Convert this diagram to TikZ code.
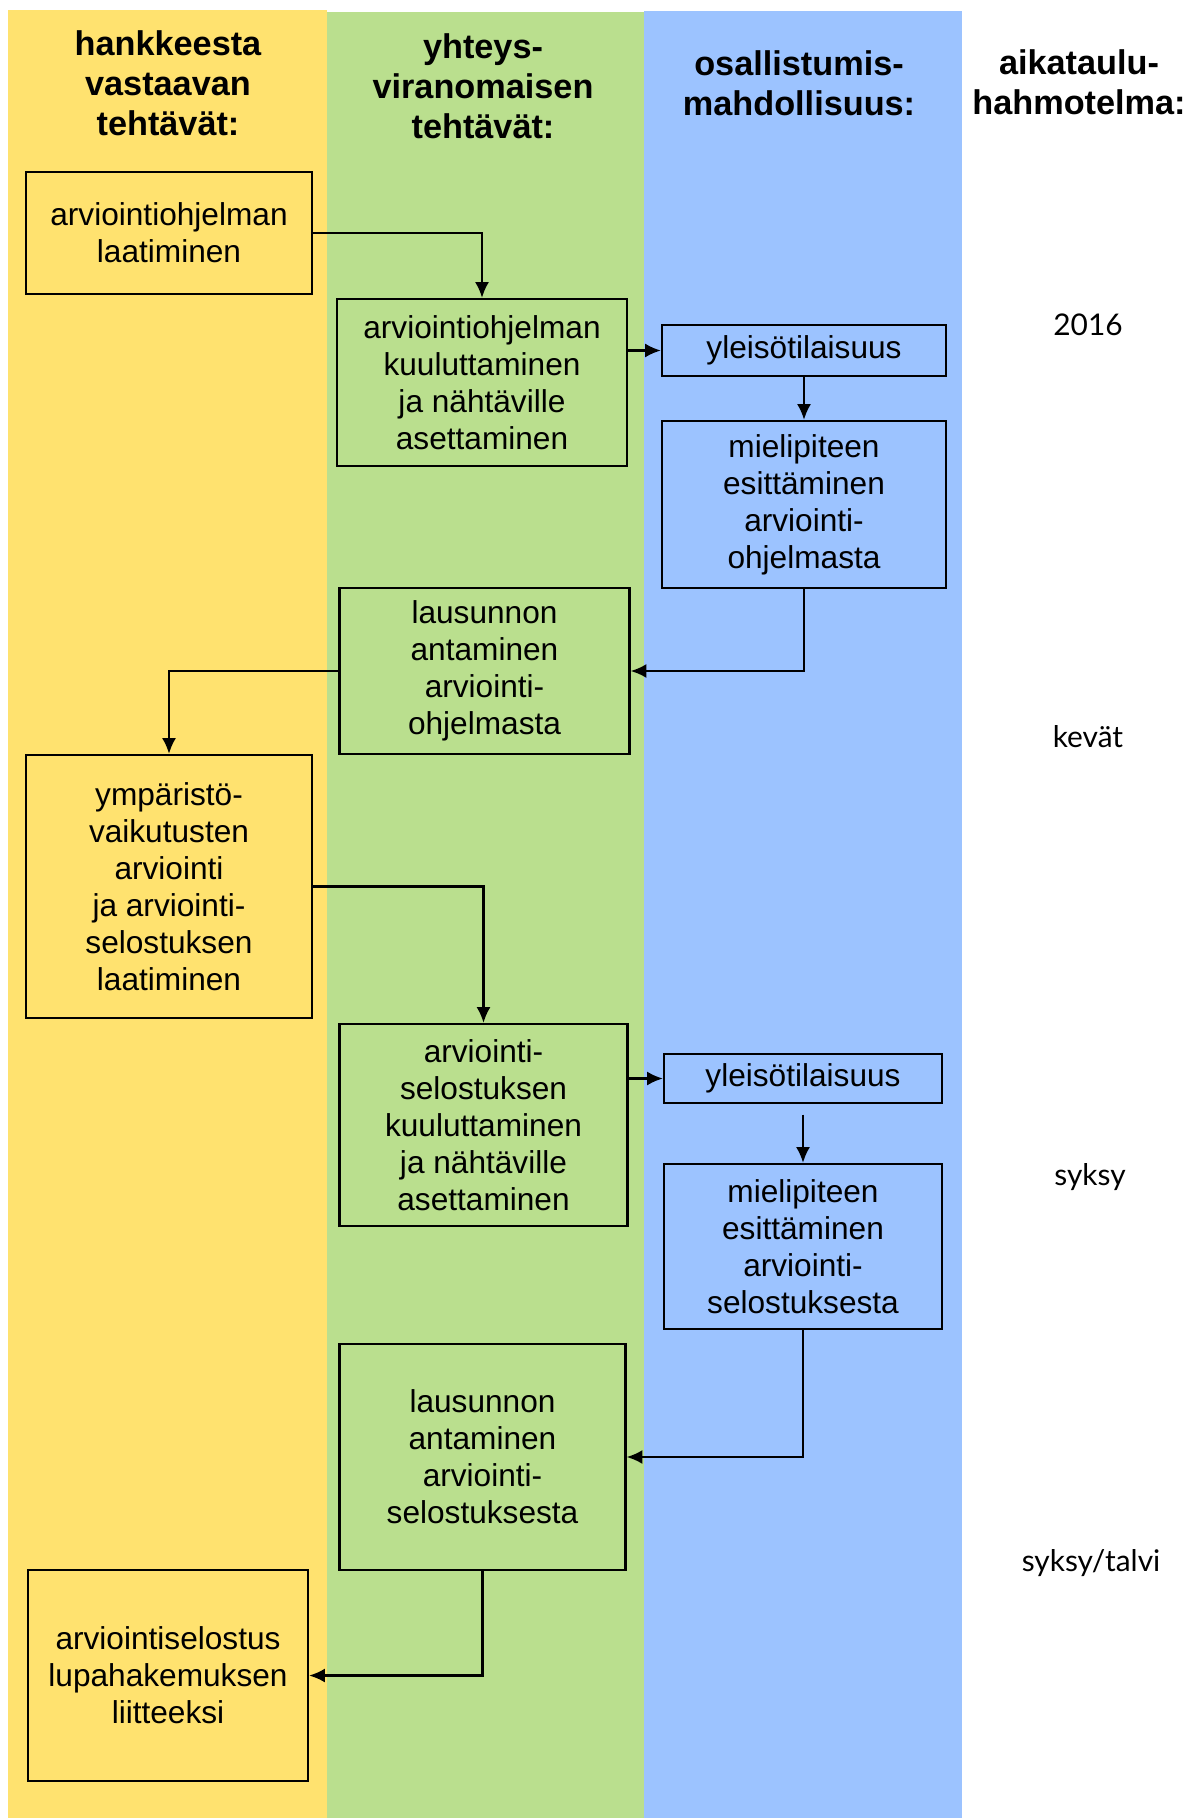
\documentclass[tikz,border=0pt]{standalone}
\usepackage{fontspec}
\setsansfont{Liberation Sans}
\newfontfamily\timefont{Lato}
\usetikzlibrary{arrows.meta}

\definecolor{vastaava}{RGB}{255,226,111}
\definecolor{viranomainen}{RGB}{186,223,142}
\definecolor{osallinen}{RGB}{156,195,255}

\begin{document}
\begin{tikzpicture}[x=0.02cm,y=-0.02cm,
    box/.style={draw,line width=1.3pt,align=center,inner sep=0pt,
        font=\sffamily\fontsize{18}{21}\selectfont},
    head/.style={align=center,font=\sffamily\bfseries\fontsize{19.5}{22.8}\selectfont},
    when/.style={font=\timefont\fontsize{17}{20}\selectfont},
    flow/.style={line width=1.3pt,-{Latex[length=9pt,width=8pt]}}]
    \useasboundingbox (0,0) rectangle (1188,1818);

    \fill[vastaava](8,10) rectangle (327,1818);
    \fill[viranomainen](327,12) rectangle (644,1818);
    \fill[osallinen](644,11) rectangle (962,1818);

    \node[head] (h1) at (168,83) {hankkeesta\\vastaavan\\tehtävät:};
    \node[head] (h2) at (483,86) {yhteys-\\viranomaisen\\tehtävät:};
    \node[head] (h3) at (799,83) {osallistumis-\\mahdollisuus:};
    \node[head] (h4) at (1079,82) {aikataulu-\\hahmotelma:};

    \node[box,fill=vastaava,minimum width=5.72cm,minimum height=2.44cm] (laatiminen) at (169,233) {arviointiohjelman\\laatiminen};
    \node[box,fill=viranomainen,minimum width=5.80cm,minimum height=3.34cm] (kuulutus1) at (482,382.5) {arviointiohjelman\\kuuluttaminen\\ja nähtäville\\asettaminen};
    \node[box,fill=osallinen,minimum width=5.68cm,minimum height=1.02cm] (tilaisuus1) at (804,350.5) {yleisötilaisuus};
    \node[box,fill=osallinen,minimum width=5.68cm,minimum height=3.34cm] (mielipide1) at (804,504.5) {mielipiteen\\esittäminen\\arviointi-\\ohjelmasta};
    \node[box,fill=viranomainen,minimum width=5.80cm,minimum height=3.32cm] (lausunto1) at (484.5,671) {lausunnon\\antaminen\\arviointi-\\ohjelmasta};
    \node[box,fill=vastaava,minimum width=5.72cm,minimum height=5.26cm] (arviointi) at (169,886.5) {ympäristö-\\vaikutusten\\arviointi\\ja arviointi-\\selostuksen\\laatiminen};
    \node[box,fill=viranomainen,minimum width=5.76cm,minimum height=4.04cm] (kuulutus2) at (483.5,1125) {arviointi-\\selostuksen\\kuuluttaminen\\ja nähtäville\\asettaminen};
    \node[box,fill=osallinen,minimum width=5.56cm,minimum height=0.98cm] (tilaisuus2) at (803,1078.5) {yleisötilaisuus};
    \node[box,fill=osallinen,minimum width=5.56cm,minimum height=3.30cm] (mielipide2) at (803,1246.5) {mielipiteen\\esittäminen\\arviointi-\\selostuksesta};
    \node[box,fill=viranomainen,minimum width=5.72cm,minimum height=4.52cm] (lausunto2) at (482.5,1457) {lausunnon\\antaminen\\arviointi-\\selostuksesta};
    \node[box,fill=vastaava,minimum width=5.60cm,minimum height=4.22cm] (liite) at (168,1675.5) {arviointiselostus\\lupahakemuksen\\liitteeksi};

    \node[when] (t1) at (1088,325) {2016};
    \node[when] (t2) at (1088,737) {kevät};
    \node[when] (t3) at (1090,1177) {syksy};
    \node[when] (t4) at (1091,1563) {syksy/talvi};

    \draw[flow](laatiminen.east) -| (kuulutus1.north);
    \draw[flow](kuulutus1.east |- tilaisuus1.west) -- (tilaisuus1.west);
    \draw[flow](tilaisuus1.south) -- (mielipide1.north);
    \draw[flow](mielipide1.south) |- (lausunto1.east);
    \draw[flow](lausunto1.west) -| (arviointi.north);
    \draw[flow](arviointi.east) -| (kuulutus2.north);
    \draw[flow](kuulutus2.east |- tilaisuus2.west) -- (tilaisuus2.west);
    \draw[flow,shorten <=6pt](tilaisuus2.south) -- (mielipide2.north);
    \draw[flow](mielipide2.south) |- (lausunto2.east);
    \draw[flow](lausunto2.south) |- (liite.east);
\end{tikzpicture}
\end{document}
